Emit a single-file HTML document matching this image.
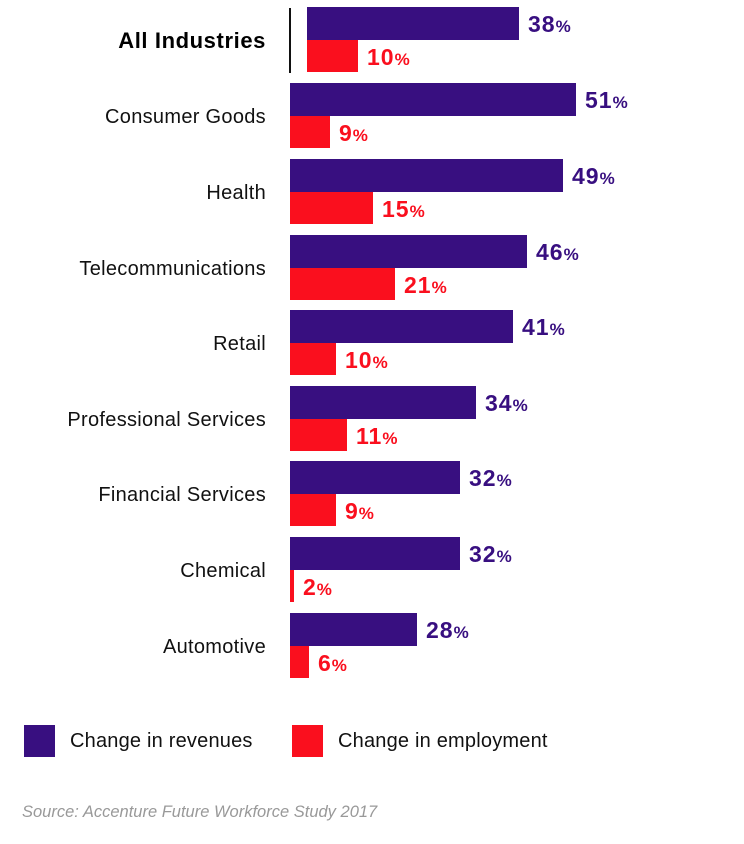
<!DOCTYPE html>
<html><head><style>
body{margin:0;width:744px;height:844px;background:#fff;position:relative;font-family:"Liberation Sans",sans-serif;overflow:hidden}
.b{position:absolute;height:33px}
.p{background:#380f80}.r{background:#fa0f1e;height:32px}
.l{position:absolute;right:478px;font-size:20px;letter-spacing:0.3px;color:#111;line-height:20px;white-space:nowrap}
.v{position:absolute;font-weight:bold;font-size:23px;letter-spacing:1px;line-height:22px;white-space:nowrap}
.v small{font-size:17px;letter-spacing:0}
.vp{color:#380f80}.vr{color:#fa0f1e}
</style></head><body>
<div style="position:absolute;left:289px;top:8px;width:2px;height:65px;background:#111"></div>
<div class="l" style="top:31px;font-weight:bold;font-size:22px;letter-spacing:0.6px;color:#000">All Industries</div>
<div class="b p" style="left:307px;top:7px;width:212px"></div>
<div class="b r" style="left:307px;top:40px;width:51px"></div>
<div class="v vp" style="left:528px;top:13px">38<small>%</small></div>
<div class="v vr" style="left:367px;top:46px">10<small>%</small></div>

<div class="l" style="top:107px">Consumer Goods</div>
<div class="b p" style="left:290px;top:83px;width:286px"></div>
<div class="b r" style="left:290px;top:116px;width:40px"></div>
<div class="v vp" style="left:585px;top:89px">51<small>%</small></div>
<div class="v vr" style="left:339px;top:122px">9<small>%</small></div>

<div class="l" style="top:183px">Health</div>
<div class="b p" style="left:290px;top:159px;width:273px"></div>
<div class="b r" style="left:290px;top:192px;width:83px"></div>
<div class="v vp" style="left:572px;top:165px">49<small>%</small></div>
<div class="v vr" style="left:382px;top:198px">15<small>%</small></div>

<div class="l" style="top:259px">Telecommunications</div>
<div class="b p" style="left:290px;top:235px;width:237px"></div>
<div class="b r" style="left:290px;top:268px;width:105px"></div>
<div class="v vp" style="left:536px;top:241px">46<small>%</small></div>
<div class="v vr" style="left:404px;top:274px">21<small>%</small></div>

<div class="l" style="top:334px">Retail</div>
<div class="b p" style="left:290px;top:310px;width:223px"></div>
<div class="b r" style="left:290px;top:343px;width:46px"></div>
<div class="v vp" style="left:522px;top:316px">41<small>%</small></div>
<div class="v vr" style="left:345px;top:349px">10<small>%</small></div>

<div class="l" style="top:410px">Professional Services</div>
<div class="b p" style="left:290px;top:386px;width:186px"></div>
<div class="b r" style="left:290px;top:419px;width:57px"></div>
<div class="v vp" style="left:485px;top:392px">34<small>%</small></div>
<div class="v vr" style="left:356px;top:425px">11<small>%</small></div>

<div class="l" style="top:485px">Financial Services</div>
<div class="b p" style="left:290px;top:461px;width:170px"></div>
<div class="b r" style="left:290px;top:494px;width:46px"></div>
<div class="v vp" style="left:469px;top:467px">32<small>%</small></div>
<div class="v vr" style="left:345px;top:500px">9<small>%</small></div>

<div class="l" style="top:561px">Chemical</div>
<div class="b p" style="left:290px;top:537px;width:170px"></div>
<div class="b r" style="left:290px;top:570px;width:4px"></div>
<div class="v vp" style="left:469px;top:543px">32<small>%</small></div>
<div class="v vr" style="left:303px;top:576px">2<small>%</small></div>

<div class="l" style="top:637px">Automotive</div>
<div class="b p" style="left:290px;top:613px;width:127px"></div>
<div class="b r" style="left:290px;top:646px;width:19px"></div>
<div class="v vp" style="left:426px;top:619px">28<small>%</small></div>
<div class="v vr" style="left:318px;top:652px">6<small>%</small></div>

<div style="position:absolute;left:24px;top:725px;width:31px;height:32px;background:#380f80"></div>
<div style="position:absolute;left:70px;top:730px;font-size:20px;letter-spacing:0.2px;color:#111">Change in revenues</div>
<div style="position:absolute;left:292px;top:725px;width:31px;height:32px;background:#fa0f1e"></div>
<div style="position:absolute;left:338px;top:730px;font-size:20px;letter-spacing:0.2px;color:#111">Change in employment</div>
<div style="position:absolute;left:22px;top:803px;font-size:16.5px;font-style:italic;color:#999">Source: Accenture Future Workforce Study 2017</div>
</body></html>
